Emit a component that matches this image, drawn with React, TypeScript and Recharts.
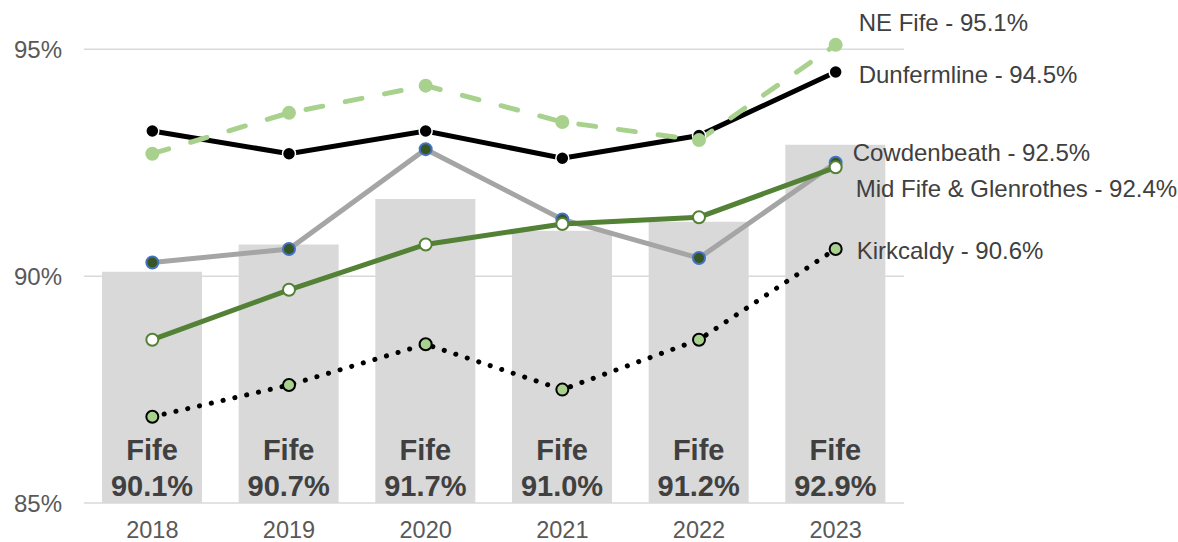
import { Bar, ComposedChart, Line, ReferenceLine, XAxis, YAxis } from 'recharts';

const years = ['2018', '2019', '2020', '2021', '2022', '2023'];
const fife = [90.1, 90.7, 91.7, 91.0, 91.2, 92.9];
const neFife = [92.7, 93.6, 94.2, 93.4, 93.0, 95.1];
const dunfermline = [93.2, 92.7, 93.2, 92.6, 93.1, 94.5];
const cowdenbeath = [90.3, 90.6, 92.8, 91.25, 90.4, 92.5];
const midFife = [88.6, 89.7, 90.7, 91.15, 91.3, 92.4];
const kirkcaldy = [86.9, 87.6, 88.5, 87.5, 88.6, 90.6];
const yTicks = [85, 90, 95];
const gridLines = [90, 95];

const data = years.map((year, i) => ({
  year,
  fife: fife[i],
  neFife: neFife[i],
  dunfermline: dunfermline[i],
  cowdenbeath: cowdenbeath[i],
  midFife: midFife[i],
  kirkcaldy: kirkcaldy[i],
}));

const FONT = '"Liberation Sans", Arial, sans-serif';
const last = years.length - 1;

// series name + last value, drawn to the right of the final point
function endLabel(name: string, dx: number, dy: number) {
  return (props: any) => {
    if (props.index !== last) return <g />;
    return (
      <text
        x={props.x + dx}
        y={props.y + dy}
        fontFamily={FONT}
        fontSize={24}
        fill="#404040"
        dominantBaseline="central"
      >
        {`${name} - ${Number(props.value).toFixed(1)}%`}
      </text>
    );
  };
}

function FifeLabel(props: any) {
  const { x, y, width, height, value } = props;
  const cx = x + width / 2;
  const bottom = y + height;
  return (
    <g fontFamily={FONT} fontSize={29} fontWeight="bold" fill="#404040" textAnchor="middle">
      <text x={cx} y={bottom - 53} dominantBaseline="central">
        Fife
      </text>
      <text x={cx} y={bottom - 17} dominantBaseline="central">
        {`${Number(value).toFixed(1)}%`}
      </text>
    </g>
  );
}

export default function App() {
  return (
    <div style={{ position: 'absolute', left: 0, top: 0, width: 1178, height: 542, background: '#fff', overflow: 'hidden' }}>
      <ComposedChart
        width={1178}
        height={542}
        data={data}
        margin={{ top: 4, right: 274, bottom: 0, left: 0 }}
      >
        {gridLines.map((v) => (
          <ReferenceLine key={v} y={v} stroke="#D9D9D9" strokeWidth={1.5} />
        ))}
        <XAxis
          dataKey="year"
          height={39}
          axisLine={{ stroke: '#D9D9D9', strokeWidth: 1.5 }}
          tickLine={false}
          tickSize={0}
          tickMargin={18}
          tick={{ fontFamily: FONT, fontSize: 23.5, fill: '#595959' }}
        />
        <YAxis
          width={84}
          domain={[85, 96]}
          ticks={yTicks}
          stroke="none"
          axisLine={false}
          tickLine={false}
          tickSize={0}
          tickMargin={22}
          tickFormatter={(v: number) => `${v}%`}
          tick={{ fontFamily: FONT, fontSize: 24, fill: '#595959' }}
        />
        <Bar dataKey="fife" fill="#D9D9D9" barSize={100} isAnimationActive={false} label={FifeLabel} />
        <Line
          dataKey="kirkcaldy"
          stroke="#000"
          strokeWidth={5}
          strokeDasharray="0.1 12"
          strokeLinecap="round"
          dot={{ r: 6, fill: '#A9D18E', stroke: '#000', strokeWidth: 2, strokeDasharray: '' }}
          isAnimationActive={false}
          label={endLabel('Kirkcaldy', 21, 2)}
        />
        <Line
          dataKey="cowdenbeath"
          stroke="#A5A5A5"
          strokeWidth={5}
          dot={{ r: 6, fill: '#375623', stroke: '#4472C4', strokeWidth: 2 }}
          isAnimationActive={false}
          label={endLabel('Cowdenbeath', 17, -10.5)}
        />
        <Line
          dataKey="midFife"
          stroke="#538135"
          strokeWidth={5}
          dot={{ r: 6, fill: '#fff', stroke: '#538135', strokeWidth: 2 }}
          isAnimationActive={false}
          label={endLabel('Mid Fife & Glenrothes', 20, 21.5)}
        />
        <Line
          dataKey="dunfermline"
          stroke="#000"
          strokeWidth={5}
          dot={{ r: 6.5, fill: '#000', stroke: '#fff', strokeWidth: 1.5 }}
          isAnimationActive={false}
          label={endLabel('Dunfermline', 23, 2)}
        />
        <Line
          dataKey="neFife"
          stroke="#A9D18E"
          strokeWidth={5}
          strokeDasharray="17 23"
          strokeLinecap="round"
          dot={{ r: 7, fill: '#A9D18E', stroke: 'none', strokeDasharray: '' }}
          isAnimationActive={false}
          label={endLabel('NE Fife', 23, -22.5)}
        />
      </ComposedChart>
    </div>
  );
}
